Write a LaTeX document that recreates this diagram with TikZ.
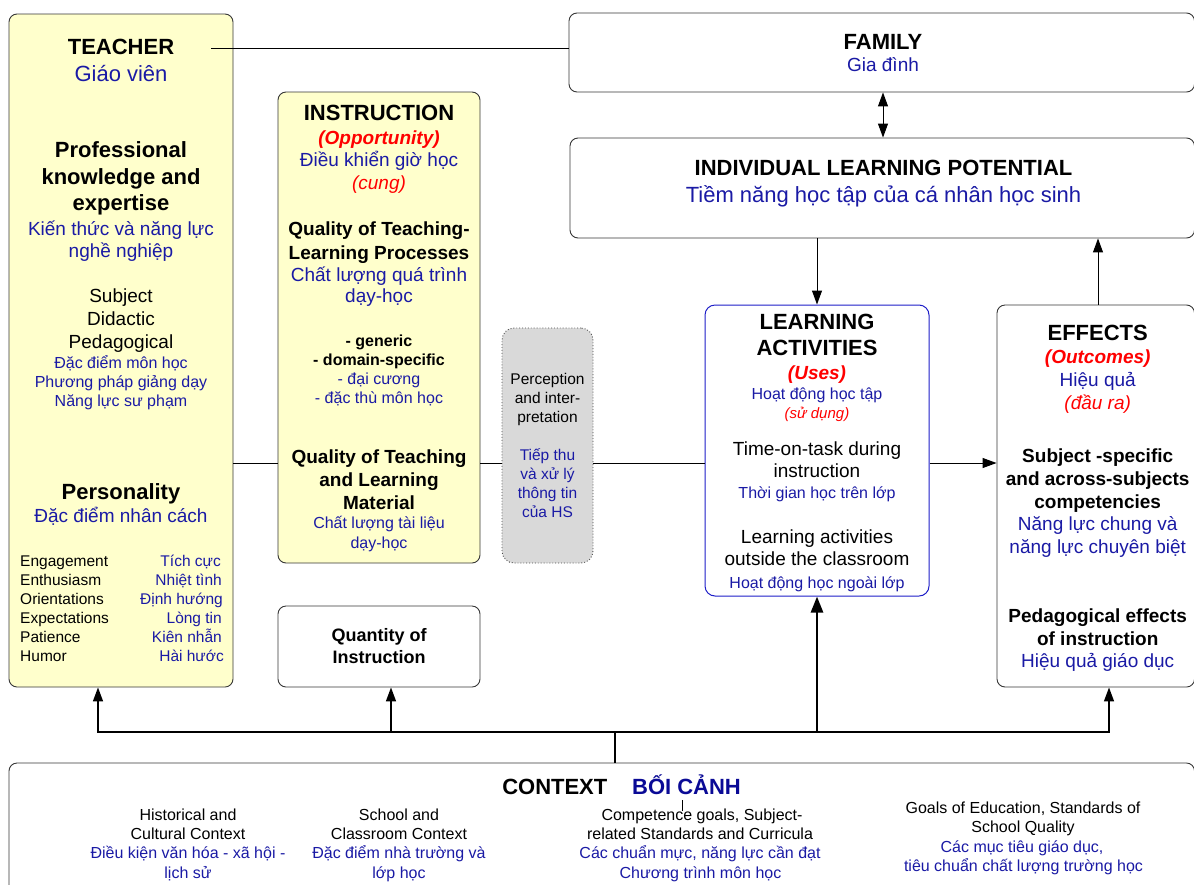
\documentclass[tikz,border=0pt]{standalone}
\usepackage{fontspec}
\setmainfont{Liberation Sans}
\usetikzlibrary{arrows.meta,fit}
\definecolor{cBlue}{RGB}{26,26,165}
\definecolor{cNavy}{RGB}{10,10,150}
\definecolor{cRed}{RGB}{255,0,0}
\definecolor{cYel}{RGB}{255,255,204}
\definecolor{cGray}{RGB}{217,217,217}
\definecolor{cBord}{RGB}{55,55,55}
\definecolor{cLaBord}{RGB}{30,30,200}
\tikzset{
  tx/.style={inner sep=0pt, text depth=0pt, anchor=center},
  b22/.style={tx, font=\fontsize{22}{26}\selectfont\bfseries, text height=15.8pt},
  n22/.style={tx, font=\fontsize{22}{26}\selectfont, text height=15.8pt},
  b19/.style={tx, font=\fontsize{19}{23}\selectfont\bfseries, text height=13.6pt},
  b18/.style={tx, font=\fontsize{18}{22}\selectfont\bfseries, text height=12.9pt},
  bi19/.style={tx, font=\fontsize{19}{23}\selectfont\bfseries\itshape, text height=13.6pt},
  n19/.style={tx, font=\fontsize{19}{23}\selectfont, text height=13.6pt},
  i19/.style={tx, font=\fontsize{19}{23}\selectfont\itshape, text height=13.6pt},
  b16/.style={tx, font=\fontsize{16}{19}\selectfont\bfseries, text height=11.5pt},
  n16/.style={tx, font=\fontsize{16}{19}\selectfont, text height=11.5pt},
  n155/.style={tx, font=\fontsize{15.5}{19}\selectfont, text height=11.1pt},
  i15/.style={tx, font=\fontsize{15}{18}\selectfont\itshape, text height=10.8pt},
  box/.style={draw=cBord, line width=0.9pt, rounded corners=8pt, inner sep=0pt},
  conn/.style={draw=black, line width=1pt},
  tip/.style={-{Triangle[length=14pt,width=10pt]}},
}
\begin{document}
\begin{tikzpicture}[x=1pt,y=-1pt]
\useasboundingbox (0,0) rectangle (1194,884);
\fill[white] (0,0) rectangle (1194,884);

% ---------- boxes ----------
\node[box, fill=cYel, fit={(9,14)(233,687)}] (teacher) {};
\node[box, fill=cYel, fit={(278,92)(480,563)}] (instr) {};
\node[box, fit={(278,606)(480,687)}] (quant) {};
\node[box, draw=black!70, dotted, fill=cGray, rounded corners=12pt, fit={(502,328)(593,563)}] (perc) {};
\node[box, fit={(569,13)(1194.5,92)}] (family) {};
\node[box, fit={(570,138)(1194.5,238)}] (ilp) {};
\node[box, draw=cLaBord, line width=1pt, rounded corners=10pt, fit={(705,305)(929,596)}] (la) {};
\node[box, fit={(997,305)(1194.5,687)}] (eff) {};
\node[box, fit={(9,763)(1194.5,900)}] (ctx) {};

% ---------- connectors ----------
\coordinate (tl) at (211,48);
\draw[conn] (tl) -- (tl -| family.west);
\coordinate (mid) at (0,463);
\draw[conn] (mid -| teacher.east) -- (mid -| instr.west);
\draw[conn] (mid -| instr.east) -- (mid -| perc.west);
\draw[conn] (mid -| perc.east) -- (mid -| la.west);
\draw[conn, tip] (mid -| la.east) -- (mid -| eff.west);

\coordinate (fx) at (883,0);
\draw[conn, {Triangle[length=14pt,width=10pt]}-{Triangle[length=14pt,width=10pt]}] (fx |- family.south) -- (fx |- ilp.north);
\coordinate (lx) at (817,0);
\draw[conn, tip] (lx |- ilp.south) -- (lx |- la.north);
\coordinate (ex) at (1098,0);
\draw[conn, tip] (ex |- eff.north) -- (ex |- ilp.south);

\coordinate (busL) at (98,732);
\coordinate (busQ) at (391,732);
\coordinate (busS) at (615,732);
\coordinate (busA) at (817,732);
\coordinate (busR) at (1109,732);
\draw[line width=2.6pt, line cap=rect] (busL) -- (busR);
\draw[conn, line width=1.5pt, tip] (busL) -- (busL |- teacher.south);
\draw[conn, line width=1.5pt, tip] (busQ) -- (busQ |- quant.south);
\draw[conn, line width=1.5pt, tip] (busR) -- (busR |- eff.south);
\draw[conn, line width=2.6pt, -{Triangle[length=16pt,width=12pt]}] (busA) -- (busA |- la.south);
\draw[conn, line width=1.5pt] (busS) -- (busS |- ctx.north);
\draw[line width=0.6pt] (682,800) -- (682,811);

% ---------- TEACHER ----------
\node[b22] (t1) at (121,47) {TEACHER};
\node[n22, text=cBlue] (t2) at (121,74) {Giáo viên};
\node[b22] (t3) at (121,150) {Professional};
\node[b22] (t4) at (121,176.5) {knowledge and};
\node[b22] (t5) at (121,203) {expertise};
\node[n19, text=cBlue] (t6) at (121,229) {Kiến thức và năng lực};
\node[n19, text=cBlue] (t7) at (121,250.5) {nghề nghiệp};
\node[n19] (t8) at (121,296) {Subject};
\node[n19] (t9) at (121,319) {Didactic};
\node[n19] (t10) at (121,342) {Pedagogical};
\node[n16, text=cBlue] (t11) at (121,363) {Đặc điểm môn học};
\node[n16, text=cBlue] (t12) at (121,382) {Phương pháp giảng dạy};
\node[n16, text=cBlue] (t13) at (121,401) {Năng lực sư phạm};
\node[b22] (t14) at (121,492) {Personality};
\node[n19, text=cBlue] (t15) at (121,516) {Đặc điểm nhân cách};
\node[n155, anchor=west] (p1) at (20,561) {Engagement};
\node[n155, anchor=west] (p2) at (20,580) {Enthusiasm};
\node[n155, anchor=west] (p3) at (20,599) {Orientations};
\node[n155, anchor=west] (p4) at (20,618) {Expectations};
\node[n155, anchor=west] (p5) at (20,637) {Patience};
\node[n155, anchor=west] (p6) at (20,656) {Humor};
\node[n155, anchor=east, text=cBlue] (q1) at (221,561) {Tích cực};
\node[n155, anchor=east, text=cBlue] (q2) at (222,580) {Nhiệt tình};
\node[n155, anchor=east, text=cBlue] (q3) at (223,599) {Định hướng};
\node[n155, anchor=east, text=cBlue] (q4) at (222,618) {Lòng tin};
\node[n155, anchor=east, text=cBlue] (q5) at (222,637) {Kiên nhẫn};
\node[n155, anchor=east, text=cBlue] (q6) at (224,656) {Hài hước};

% ---------- INSTRUCTION ----------
\node[b22] (i1) at (379,112.5) {INSTRUCTION};
\node[bi19, text=cRed] (i2) at (379,137.5) {(Opportunity)};
\node[n19, text=cBlue] (i3) at (379,160) {Điều khiển giờ học};
\node[i19, text=cRed] (i4) at (379,183) {(cung)};
\node[b19] (i5) at (379,229) {Quality of Teaching-};
\node[b19] (i6) at (379,252.5) {Learning Processes};
\node[n19, text=cBlue] (i7) at (379,274.7) {Chất lượng quá trình};
\node[n19, text=cBlue] (i8) at (379,296) {dạy-học};
\node[b16] (i9) at (379,341) {- generic};
\node[b16] (i10) at (379,360) {- domain-specific};
\node[n16, text=cBlue] (i11) at (379,379) {- đại cương};
\node[n16, text=cBlue] (i12) at (379,398) {- đặc thù môn học};
\node[b19] (i13) at (379,457) {Quality of Teaching};
\node[b19] (i14) at (379,480) {and Learning};
\node[b19] (i15) at (379,502.5) {Material};
\node[n16, text=cBlue] (i16) at (379,523) {Chất lượng tài liệu};
\node[n16, text=cBlue] (i17) at (379,542.5) {dạy-học};

% ---------- QUANTITY ----------
\node[b18] (u1) at (379,635) {Quantity of};
\node[b18] (u2) at (379,657) {Instruction};

% ---------- PERCEPTION ----------
\node[n155] (r1) at (547.5,379) {Perception};
\node[n155] (r2) at (547.5,398) {and inter-};
\node[n155] (r3) at (547.5,417) {pretation};
\node[n155, text=cBlue] (r4) at (547.5,455) {Tiếp thu};
\node[n155, text=cBlue] (r5) at (547.5,474) {và xử lý};
\node[n155, text=cBlue] (r6) at (547.5,493) {thông tin};
\node[n155, text=cBlue] (r7) at (547.5,512) {của HS};

% ---------- FAMILY / ILP ----------
\node[b22] (f1) at (883,41.3) {FAMILY};
\node[n19, text=cBlue] (f2) at (883,65) {Gia đình};
\node[b22] (g1) at (883.5,168) {INDIVIDUAL LEARNING POTENTIAL};
\node[n22, text=cBlue] (g2) at (883.5,195) {Tiềm năng học tập của cá nhân học sinh};

% ---------- LEARNING ACTIVITIES ----------
\node[b22] (a1) at (817,321.3) {LEARNING};
\node[b22] (a2) at (817,348) {ACTIVITIES};
\node[bi19, text=cRed] (a3) at (817,372.5) {(Uses)};
\node[n16, text=cBlue] (a4) at (817,393.8) {Hoạt động học tập};
\node[i15, text=cRed] (a5) at (817,413) {(sử dụng)};
\node[n19] (a6) at (817,448.7) {Time-on-task during};
\node[n19] (a7) at (817,470.8) {instruction};
\node[n16, text=cBlue] (a8) at (817,493) {Thời gian học trên lớp};
\node[n19] (a9) at (817,537) {Learning activities};
\node[n19] (a10) at (817,559) {outside the classroom};
\node[n16, text=cBlue] (a11) at (817,583) {Hoạt động học ngoài lớp};

% ---------- EFFECTS ----------
\node[b22] (e1) at (1097.7,332.5) {EFFECTS};
\node[bi19, text=cRed] (e2) at (1097.7,356.7) {(Outcomes)};
\node[n19, text=cBlue] (e3) at (1097.7,379.7) {Hiệu quả};
\node[i19, text=cRed] (e4) at (1097.7,402.7) {(đầu ra)};
\node[b19] (e5) at (1097.7,455.8) {Subject -specific};
\node[b19] (e6) at (1097.7,479) {and across-subjects};
\node[b19] (e7) at (1097.7,501.7) {competencies};
\node[n19, text=cBlue] (e8) at (1097.7,524) {Năng lực chung và};
\node[n19, text=cBlue] (e9) at (1097.7,547) {năng lực chuyên biệt};
\node[b19] (e10) at (1097.7,615.8) {Pedagogical effects};
\node[b19] (e11) at (1097.7,638.8) {of instruction};
\node[n19, text=cBlue] (e12) at (1097.7,660.8) {Hiệu quả giáo dục};

% ---------- CONTEXT ----------
\node[b22] (c0) at (554.8,786.7) {CONTEXT};
\node[b22, text=cNavy] (c00) at (686.5,786.7) {BỐI CẢNH};
\node[n16] (c1) at (188,815) {Historical and};
\node[n16] (c2) at (188,834) {Cultural Context};
\node[n16, text=cBlue] (c3) at (188,853) {Điều kiện văn hóa - xã hội -};
\node[n16, text=cBlue] (c4) at (188,872.5) {lịch sử};
\node[n16] (d1) at (399,815) {School and};
\node[n16] (d2) at (399,834) {Classroom Context};
\node[n16, text=cBlue] (d3) at (399,853) {Đặc điểm nhà trường và};
\node[n16, text=cBlue] (d4) at (399,872.5) {lớp học};
\node[n16] (h1) at (702,815) {Competence goals, Subject-};
\node[n16] (h2) at (700,834) {related Standards and Curricula};
\node[n16, text=cBlue] (h3) at (700,853) {Các chuẩn mực, năng lực cần đạt};
\node[n16, text=cBlue] (h4) at (700.5,872.5) {Chương trình môn học};
\node[n16] (k1) at (1023,808) {Goals of Education, Standards of};
\node[n16] (k2) at (1023,827) {School Quality};
\node[n16, text=cBlue] (k3) at (1022,846.7) {Các mục tiêu giáo dục,};
\node[n16, text=cBlue] (k4) at (1023.5,865.3) {tiêu chuẩn chất lượng trường học};
\end{tikzpicture}
\end{document}
